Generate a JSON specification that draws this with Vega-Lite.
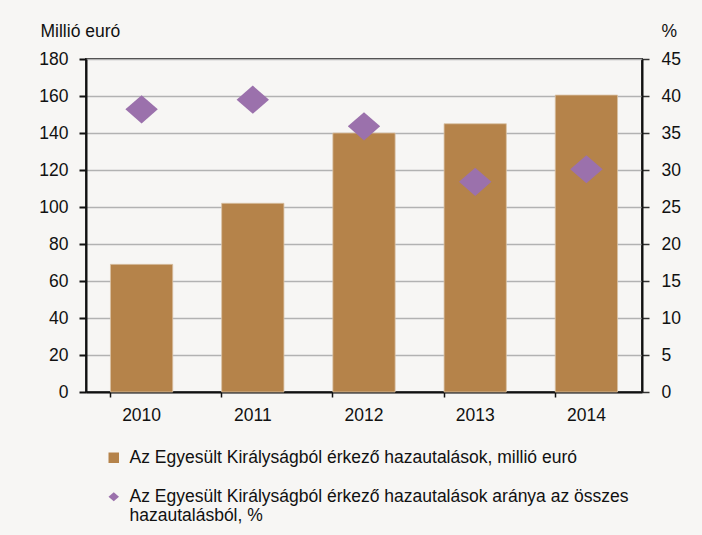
{
  "$schema": "https://vega.github.io/schema/vega-lite/v6.json",
  "width": 556,
  "height": 333,
  "autosize": {"type": "none"},
  "padding": {"left": 86, "top": 59, "right": 60, "bottom": 143},
  "background": "#f7f6f4",
  "config": {
    "font": "Liberation Sans",
    "view": {"stroke": "#333333", "strokeWidth": 2},
    "axis": {"labelFont": "Liberation Sans", "titleFont": "Liberation Sans", "labelFontSize": 17.5, "titleFontSize": 17.5, "labelColor": "#111111", "titleColor": "#111111", "titleFontWeight": "normal"},
    "legend": {"title": null, "orient": "none", "legendX": 19, "legendY": 390, "direction": "vertical", "padding": 0, "symbolSize": 110, "symbolStrokeWidth": 0, "labelFont": "Liberation Sans", "labelFontSize": 17.5, "labelColor": "#111111", "labelOffset": 7, "labelLimit": 700, "rowPadding": 20}
  },
  "data": {
    "values": [
      {"year": "2010", "s": "Az Egyesült Királyságból érkező hazautalások, millió euró", "v": 69},
      {"year": "2011", "s": "Az Egyesült Királyságból érkező hazautalások, millió euró", "v": 102},
      {"year": "2012", "s": "Az Egyesült Királyságból érkező hazautalások, millió euró", "v": 140},
      {"year": "2013", "s": "Az Egyesült Királyságból érkező hazautalások, millió euró", "v": 145},
      {"year": "2014", "s": "Az Egyesült Királyságból érkező hazautalások, millió euró", "v": 160.5},
      {"year": "2010", "s": "Az Egyesült Királyságból érkező hazautalások aránya az összes hazautalásból, %", "v": 38.2},
      {"year": "2011", "s": "Az Egyesült Királyságból érkező hazautalások aránya az összes hazautalásból, %", "v": 39.5},
      {"year": "2012", "s": "Az Egyesült Királyságból érkező hazautalások aránya az összes hazautalásból, %", "v": 35.9},
      {"year": "2013", "s": "Az Egyesült Királyságból érkező hazautalások aránya az összes hazautalásból, %", "v": 28.4},
      {"year": "2014", "s": "Az Egyesült Királyságból érkező hazautalások aránya az összes hazautalásból, %", "v": 30.1}
    ]
  },
  "encoding": {
    "x": {
      "field": "year", "type": "nominal",
      "scale": {"paddingInner": 0.44, "paddingOuter": 0.22},
      "axis": {"title": null, "labelAngle": 0, "bandPosition": 0, "domainColor": "#111111", "domainWidth": 2, "tickColor": "#111111", "tickSize": 5, "tickWidth": 1.5, "labelPadding": 9, "grid": false, "labelBaseline": "top"}
    }
  },
  "layer": [
    {
      "transform": [{"filter": "indexof(datum.s, 'arány') < 0"}],
      "mark": {"type": "bar", "stroke": "#d9c2a4", "strokeWidth": 0.8},
      "encoding": {
        "y": {
          "field": "v", "type": "quantitative",
          "scale": {"domain": [0, 180]},
          "axis": {"title": "Millió euró", "titleAngle": 0, "titleAlign": "left", "titleBaseline": "alphabetic", "titleX": -46, "titleY": -23, "values": [0, 20, 40, 60, 80, 100, 120, 140, 160, 180], "grid": true, "gridColor": "#b2b2b2", "gridWidth": 1.6, "domainColor": "#111111", "domainWidth": 2, "tickColor": "#111111", "tickSize": 7, "tickWidth": 2, "labelPadding": 11}
        },
        "color": {"field": "s", "type": "nominal"}
      }
    },
    {
      "transform": [{"filter": "indexof(datum.s, 'arány') >= 0"}],
      "mark": {"type": "point", "filled": true, "opacity": 1, "size": 1050},
      "encoding": {
        "y": {
          "field": "v", "type": "quantitative",
          "scale": {"domain": [0, 45]},
          "axis": {"orient": "right", "title": "%", "titleAngle": 0, "titleAlign": "left", "titleBaseline": "alphabetic", "titleX": 19, "titleY": -23, "values": [0, 5, 10, 15, 20, 25, 30, 35, 40, 45], "grid": false, "domainColor": "#111111", "domainWidth": 2, "tickColor": "#333333", "tickSize": 7, "tickWidth": 1.5, "labelPadding": 12}
        },
        "color": {
          "field": "s", "type": "nominal",
          "scale": {"domain": ["Az Egyesült Királyságból érkező hazautalások, millió euró", "Az Egyesült Királyságból érkező hazautalások aránya az összes hazautalásból, %"], "range": ["#b5834a", "#9b71ac"]},
          "legend": {
            "labelExpr": "indexof(datum.label, 'arány') >= 0 ? ['Az Egyesült Királyságból érkező hazautalások aránya az összes', 'hazautalásból, %'] : datum.label",
            "encode": {"labels": {"update": {"lineHeight": {"value": 24}}}}
          }
        },
        "shape": {
          "field": "s", "type": "nominal",
          "scale": {"domain": ["Az Egyesült Királyságból érkező hazautalások, millió euró", "Az Egyesült Királyságból érkező hazautalások aránya az összes hazautalásból, %"], "range": ["square", "M-1,0L0,-0.87L1,0L0,0.87Z"]},
          "legend": {
            "labelExpr": "indexof(datum.label, 'arány') >= 0 ? ['Az Egyesült Királyságból érkező hazautalások aránya az összes', 'hazautalásból, %'] : datum.label",
            "encode": {"labels": {"update": {"lineHeight": {"value": 24}}}}
          }
        }
      }
    }
  ],
  "resolve": {"scale": {"y": "independent"}}
}
